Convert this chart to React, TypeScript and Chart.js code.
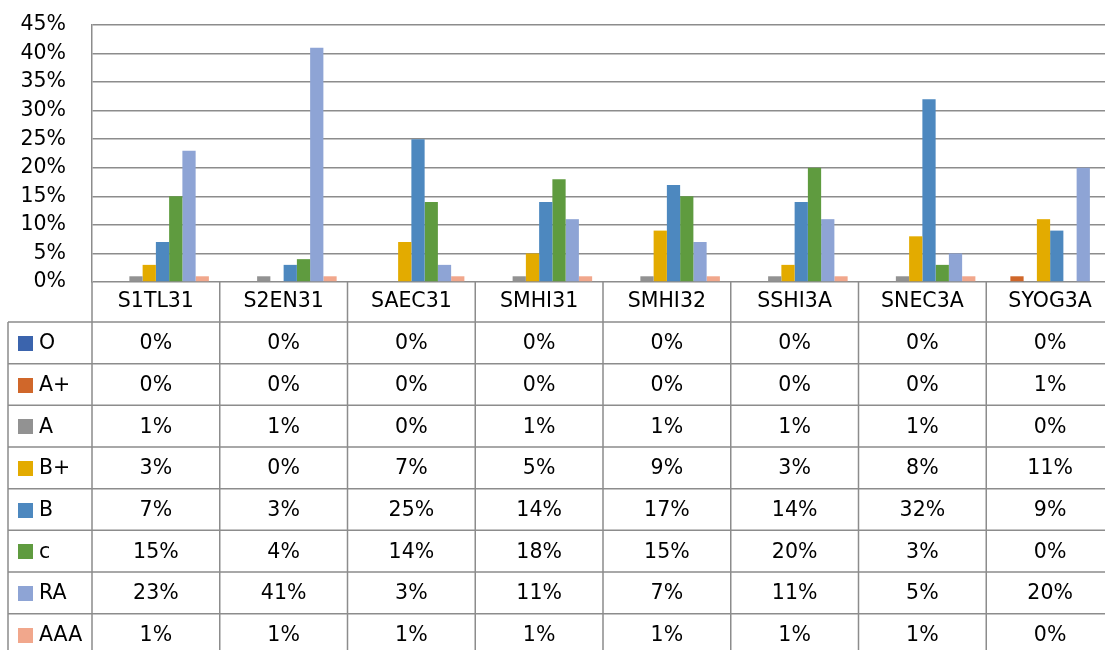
import React, { useEffect, useRef } from "react";
import { Chart, registerables } from "chart.js";

Chart.register(...registerables);

const categories = ["S1TL31", "S2EN31", "SAEC31", "SMHI31", "SMHI32", "SSHI3A", "SNEC3A", "SYOG3A"];
const seriesNames = ["O", "A+", "A", "B+", "B", "c", "RA", "AAA"];
const seriesColors = ["#3B64AD", "#D0672A", "#929292", "#E3AB00", "#4D88BF", "#5F9B3F", "#8EA4D5", "#F1A78C"];

const valuesO = [0, 0, 0, 0, 0, 0, 0, 0];
const valuesAPlus = [0, 0, 0, 0, 0, 0, 0, 1];
const valuesA = [1, 1, 0, 1, 1, 1, 1, 0];
const valuesBPlus = [3, 0, 7, 5, 9, 3, 8, 11];
const valuesB = [7, 3, 25, 14, 17, 14, 32, 9];
const valuesC = [15, 4, 14, 18, 15, 20, 3, 0];
const valuesRA = [23, 41, 3, 11, 7, 11, 5, 20];
const valuesAAA = [1, 1, 1, 1, 1, 1, 1, 0];

const seriesValues = [valuesO, valuesAPlus, valuesA, valuesBPlus, valuesB, valuesC, valuesRA, valuesAAA];

const yMax = 45;
const yStep = 5;

const FONT = "DejaVu Sans";
const FONT_SIZE = 20.5;
const LINE_COLOR = "#8c8c8c";

const tablePlugin = {
  id: "dataTable",
  afterDraw(chart: any) {
    const ctx = chart.ctx as CanvasRenderingContext2D;
    const area = chart.chartArea;
    const xs = chart.scales.x;
    const n = categories.length;
    const catW = (area.right - area.left) / n;
    const headerTop = area.bottom;
    const headerH = 40;
    const rowH = 41.67;
    const tableLeft = 8;
    const rowsTop = headerTop + headerH;
    const tableBottom = rowsTop + rowH * seriesNames.length;
    const right = chart.width;

    ctx.save();
    ctx.strokeStyle = LINE_COLOR;
    ctx.lineWidth = 1.5;
    ctx.beginPath();
    for (let r = 0; r <= seriesNames.length; r++) {
      const y = rowsTop + r * rowH;
      ctx.moveTo(tableLeft, y);
      ctx.lineTo(right, y);
    }
    ctx.moveTo(tableLeft, rowsTop);
    ctx.lineTo(tableLeft, tableBottom);
    ctx.moveTo(area.left, headerTop);
    ctx.lineTo(area.left, tableBottom);
    for (let i = 1; i <= n; i++) {
      const x = area.left + i * catW;
      ctx.moveTo(x, headerTop);
      ctx.lineTo(x, tableBottom);
    }
    ctx.stroke();

    ctx.fillStyle = "#000";
    ctx.font = `${FONT_SIZE}px "${FONT}"`;
    ctx.textAlign = "center";
    ctx.textBaseline = "middle";
    for (let i = 0; i < n; i++) {
      const cx = xs.getPixelForValue(i);
      ctx.fillText(categories[i], cx, headerTop + headerH / 2);
    }
    for (let r = 0; r < seriesNames.length; r++) {
      const cy = rowsTop + r * rowH + rowH / 2 + 1;
      ctx.fillStyle = seriesColors[r];
      ctx.fillRect(18, Math.round(cy - 8), 15, 15);
      ctx.fillStyle = "#000";
      ctx.textAlign = "left";
      ctx.fillText(seriesNames[r], 39, cy);
      ctx.textAlign = "center";
      for (let i = 0; i < n; i++) {
        const cx = xs.getPixelForValue(i);
        ctx.fillText(seriesValues[r][i] + "%", cx, cy);
      }
    }
    ctx.restore();
  },
};

export default function App() {
  const ref = useRef<HTMLCanvasElement | null>(null);
  useEffect(() => {
    if (!ref.current) return;
    const chart = new Chart(ref.current, {
      type: "bar",
      data: {
        labels: categories,
        datasets: seriesNames.map((name, i) => ({
          label: name,
          data: seriesValues[i],
          backgroundColor: seriesColors[i],
          borderWidth: 0,
          categoryPercentage: 0.83,
          barPercentage: 1,
        })),
      },
      options: {
        responsive: false,
        animation: false,
        layout: { padding: { left: 0, right: 0, top: 25, bottom: 378 } },
        plugins: { legend: { display: false }, tooltip: { enabled: false } },
        scales: {
          x: {
            display: false,
            afterFit: (s: any) => {
              s.height = 0;
              s.paddingLeft = 0;
              s.paddingRight = 0;
            },
          },
          y: {
            min: 0,
            max: yMax,
            ticks: {
              stepSize: yStep,
              padding: 26,
              color: "#000",
              font: { family: FONT, size: FONT_SIZE },
              callback: (v: any) => v + "%",
            },
            grid: { color: LINE_COLOR, lineWidth: 1.5, drawTicks: false },
            border: { color: LINE_COLOR, width: 1.5 },
            afterFit: (s: any) => {
              s.width = 92;
              s.paddingTop = 0;
              s.paddingBottom = 0;
            },
          },
        },
      },
      plugins: [tablePlugin],
    });
    return () => chart.destroy();
  }, []);
  return (
    <div style={{ position: "fixed", left: 0, top: 0, width: 1105, height: 650, overflow: "hidden", background: "#fff" }}>
      <canvas ref={ref} width={1114} height={660} style={{ display: "block" }} />
    </div>
  );
}
